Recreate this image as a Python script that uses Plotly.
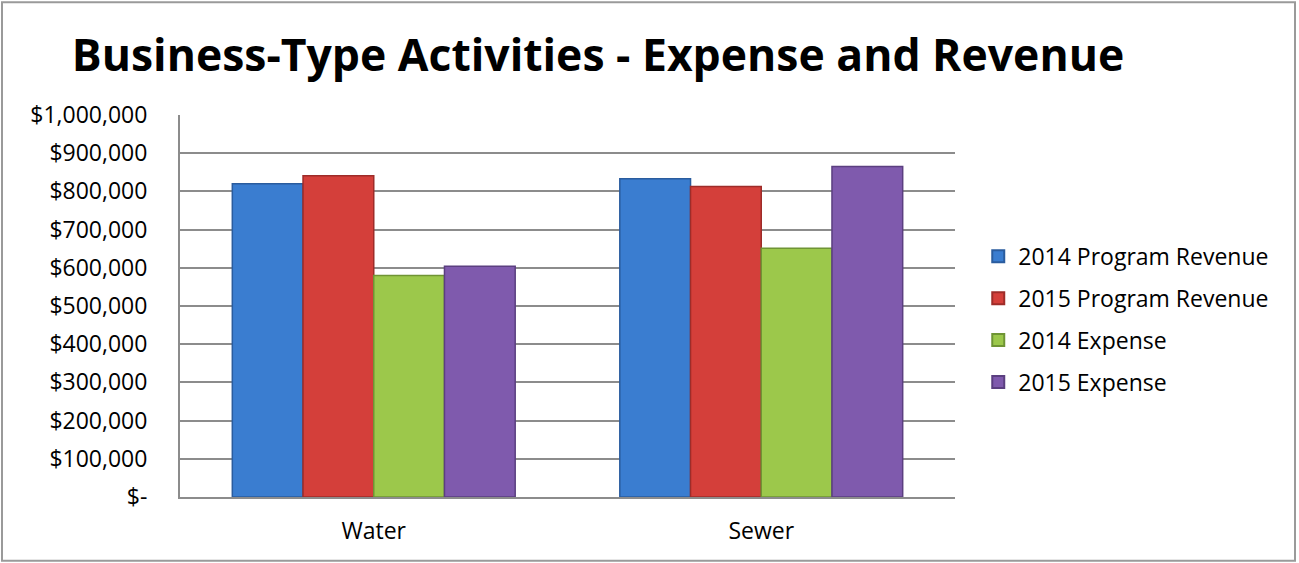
import plotly.graph_objects as go

# Category and series data
categories = ["Water", "Sewer"]
series_names = ["2014 Program Revenue", "2015 Program Revenue", "2014 Expense", "2015 Expense"]
rev_2014 = [820000, 833000]
rev_2015 = [841000, 813000]
exp_2014 = [580000, 651000]
exp_2015 = [604000, 865000]
tick_values = [0, 100000, 200000, 300000, 400000, 500000, 600000, 700000, 800000, 900000, 1000000]
tick_labels = ["$-", "$100,000", "$200,000", "$300,000", "$400,000", "$500,000",
               "$600,000", "$700,000", "$800,000", "$900,000", "$1,000,000"]

series_values = [rev_2014, rev_2015, exp_2014, exp_2015]
fill_colors = ["#3a7dd0", "#d43f3a", "#9cc84b", "#7f5aad"]
edge_colors = ["#2a5c9e", "#9e2c29", "#6f9434", "#5b3f80"]

FONT = "Open Sans"
GRID = "#8c8c8c"

fig = go.Figure()
for i, (name, vals, fc, ec) in enumerate(zip(series_names, series_values, fill_colors, edge_colors)):
    fig.add_trace(go.Bar(
        x=categories, y=vals, name=name, legendgroup=f"g{i}",
        marker=dict(color=fc, line=dict(color=ec, width=1.5)),
    ))

fig.update_layout(
    width=1299, height=563,
    margin=dict(l=180, r=344, t=115, b=66),
    paper_bgcolor="white", plot_bgcolor="white",
    barmode="group", bargap=0.27, bargroupgap=0,
    font=dict(family=FONT, size=23, color="black"),
    title=dict(
        text="<b>Business-Type Activities - Expense and Revenue</b>",
        font=dict(family=FONT, size=44.5, color="black"),
        xref="container", yref="container",
        x=598 / 1299, xanchor="center",
        y=1 - 55 / 563, yanchor="middle",
    ),
    legend=dict(
        x=1.03, xanchor="left", y=0.465, yanchor="middle",
        font=dict(family=FONT, size=23),
        tracegroupgap=9, itemsizing="constant",
        bgcolor="rgba(0,0,0,0)",
    ),
    showlegend=True,
)

fig.update_yaxes(
    range=[0, 1000000],
    tickvals=tick_values, ticktext=tick_labels,
    showgrid=True, gridcolor=GRID, gridwidth=2,
    showline=True, linecolor=GRID, linewidth=2,
    ticks="", ticklabelstandoff=26,
    zeroline=False,
    tickfont=dict(family=FONT, size=23),
)
fig.update_xaxes(
    showline=True, linecolor=GRID, linewidth=2,
    ticks="", ticklabelstandoff=12,
    tickfont=dict(family=FONT, size=23),
)

# Outer chart border
fig.add_shape(type="rect", xref="paper", yref="paper",
              x0=-178 / 775, x1=1 + 340 / 775, y0=-64 / 383, y1=1 + 113 / 383,
              line=dict(color="#9a9a9a", width=2), fillcolor="rgba(0,0,0,0)", layer="below")

fig.write_html("out.html")
